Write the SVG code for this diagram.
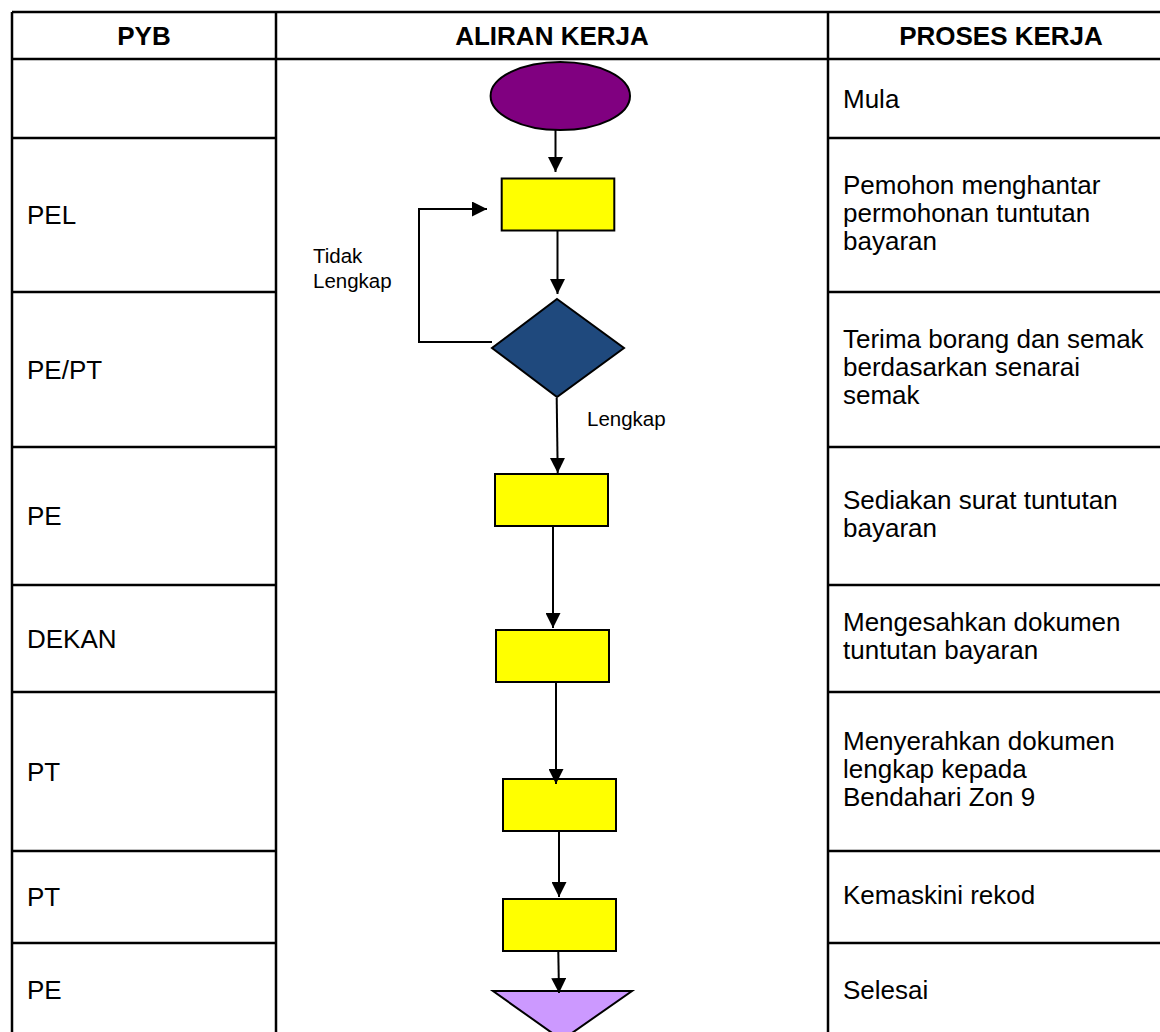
<svg xmlns="http://www.w3.org/2000/svg" width="1160" height="1032" viewBox="0 0 1160 1032">
<defs>
<style>
.grid{stroke:#000;stroke-width:2.5;fill:none}
.hd{font-family:"Liberation Sans",Arial,sans-serif;font-size:26px;font-weight:bold;fill:#000;text-anchor:middle}
.tx{font-family:"Liberation Sans",Arial,sans-serif;font-size:26px;fill:#000}
.lb{font-family:"Liberation Sans",Arial,sans-serif;font-size:20.5px;fill:#000}
.shape{stroke:#000;stroke-width:2}
.conn{stroke:#000;stroke-width:2;fill:none;marker-end:url(#arr)}
</style>
<marker id="arr" viewBox="0 0 15 15" refX="15" refY="7.5" markerWidth="15" markerHeight="15" markerUnits="userSpaceOnUse" orient="auto">
<path d="M0,0 L15,7.5 L0,15 z" fill="#000"/>
</marker>
</defs>
<rect width="1160" height="1032" fill="#fff"/>
<g id="table">
<line class="grid" x1="12" y1="12" x2="1160" y2="12"/>
<line class="grid" x1="12" y1="59" x2="1160" y2="59"/>
<line class="grid" x1="12" y1="12" x2="12" y2="1032"/>
<line class="grid" x1="276" y1="12" x2="276" y2="1032"/>
<line class="grid" x1="828" y1="12" x2="828" y2="1032"/>
<path class="grid" d="M12 138H276M12 292H276M12 447H276M12 585H276M12 692H276M12 851H276M12 943H276"/>
<path class="grid" d="M828 138H1160M828 292H1160M828 447H1160M828 585H1160M828 692H1160M828 851H1160M828 943H1160"/>
<text class="hd" x="144" y="45">PYB</text>
<text class="hd" x="552" y="45">ALIRAN KERJA</text>
<text class="hd" x="1001" y="45">PROSES KERJA</text>
<text class="tx" x="27" y="224">PEL</text>
<text class="tx" x="27" y="379">PE/PT</text>
<text class="tx" x="27" y="525">PE</text>
<text class="tx" x="27" y="648">DEKAN</text>
<text class="tx" x="27" y="781">PT</text>
<text class="tx" x="27" y="906">PT</text>
<text class="tx" x="27" y="999">PE</text>
<text class="tx" x="843" y="108">Mula</text>
<text class="tx" x="843" y="194">Pemohon menghantar</text>
<text class="tx" x="843" y="222">permohonan tuntutan</text>
<text class="tx" x="843" y="250">bayaran</text>
<text class="tx" x="843" y="348">Terima borang dan semak</text>
<text class="tx" x="843" y="376">berdasarkan senarai</text>
<text class="tx" x="843" y="404">semak</text>
<text class="tx" x="843" y="509">Sediakan surat tuntutan</text>
<text class="tx" x="843" y="537">bayaran</text>
<text class="tx" x="843" y="631">Mengesahkan dokumen</text>
<text class="tx" x="843" y="659">tuntutan bayaran</text>
<text class="tx" x="843" y="750">Menyerahkan dokumen</text>
<text class="tx" x="843" y="778">lengkap kepada</text>
<text class="tx" x="843" y="806">Bendahari Zon 9</text>
<text class="tx" x="843" y="904">Kemaskini rekod</text>
<text class="tx" x="843" y="999">Selesai</text>
</g>
<g id="start"><ellipse class="shape" cx="560.3" cy="96" rx="69.7" ry="34" fill="#800080"/></g>
<g id="step1"><rect class="shape" x="501.7" y="178.5" width="112.6" height="52" fill="#ffff00"/></g>
<g id="decision"><polygon class="shape" points="557,299 624,348 557,397 492,348" fill="#1f497d"/></g>
<g id="step3"><rect class="shape" x="495" y="474" width="113" height="52" fill="#ffff00"/></g>
<g id="step4"><rect class="shape" x="496" y="630" width="113" height="52" fill="#ffff00"/></g>
<g id="step5"><rect class="shape" x="503" y="779" width="113" height="52" fill="#ffff00"/></g>
<g id="step6"><rect class="shape" x="503" y="899" width="113" height="52" fill="#ffff00"/></g>
<g id="end"><polygon class="shape" points="493,991 632,991 562,1040" fill="#cc99ff"/></g>
<g id="connectors">
<line class="conn" x1="555.5" y1="130" x2="555.5" y2="172"/>
<line class="conn" x1="557.5" y1="231" x2="557.5" y2="294"/>
<polyline class="conn" points="492,342 419,342 419,209 487,209"/>
<line class="conn" x1="556.7" y1="398" x2="557.7" y2="473"/>
<line class="conn" x1="553" y1="527" x2="553" y2="628"/>
<line class="conn" x1="556" y1="683" x2="556" y2="784"/>
<line class="conn" x1="559" y1="832" x2="559" y2="897"/>
<line class="conn" x1="558.3" y1="952" x2="559" y2="993"/>
<text class="lb" x="313" y="263">Tidak</text>
<text class="lb" x="313" y="288">Lengkap</text>
<text class="lb" x="587" y="426">Lengkap</text>
</g>
</svg>
